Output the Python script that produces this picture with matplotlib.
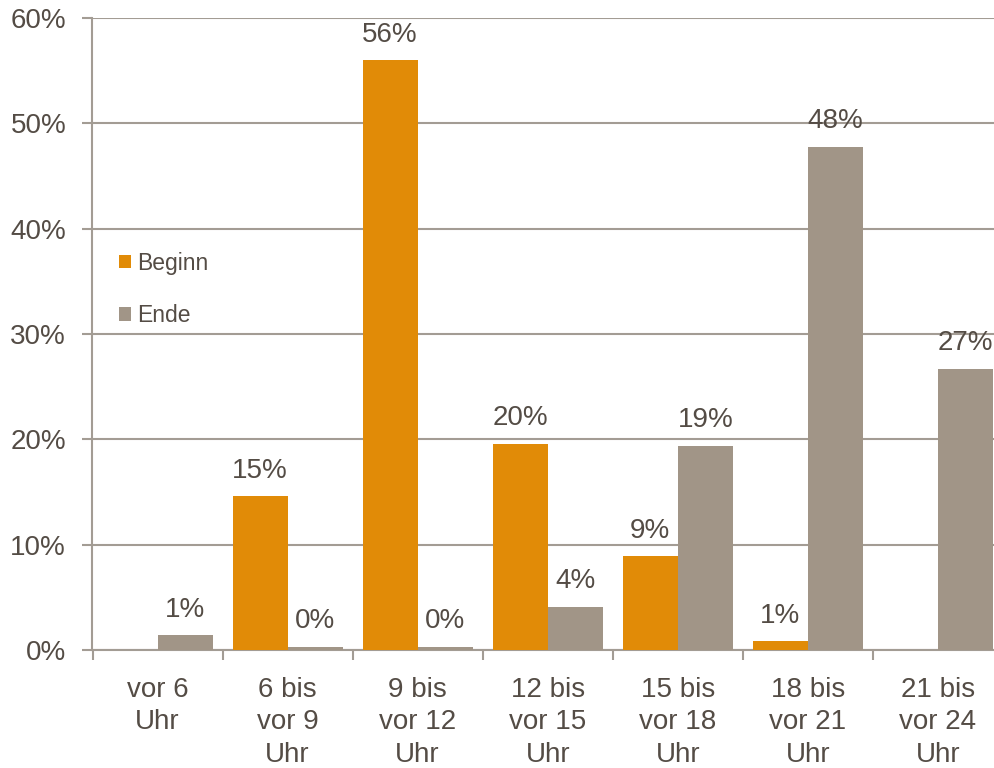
import matplotlib
matplotlib.use('Agg')
import matplotlib.pyplot as plt
import numpy as np

plt.rcParams['font.family'] = ['Liberation Sans', 'DejaVu Sans']

categories = ['vor 6\nUhr', '6 bis\nvor 9\nUhr', '9 bis\nvor 12\nUhr', '12 bis\nvor 15\nUhr',
              '15 bis\nvor 18\nUhr', '18 bis\nvor 21\nUhr', '21 bis\nvor 24\nUhr']
beginn = [np.nan, 14.6, 56.0, 19.6, 8.9, 0.85, np.nan]
ende = [1.4, 0.3, 0.3, 4.1, 19.4, 47.8, 26.7]

c_beginn = '#E18B07'
c_ende = '#A19587'
c_text = '#544C45'
c_axis = '#A39C94'

fig = plt.figure(figsize=(9.95, 7.68), dpi=100, facecolor='white')
ax = fig.add_axes([92.5/995, 1-650/768, (1003-92.5)/995, (650-18)/768])

x = np.arange(len(categories))
w = 0.423
b1 = ax.bar(x - w/2, beginn, w, color=c_beginn, label='Beginn', zorder=3)
b2 = ax.bar(x + w/2, ende, w, color=c_ende, label='Ende', zorder=3)

# value labels above each bar (no label where there is no bar)
for bars, vals in ((b1, beginn), (b2, ende)):
    for rect, v in zip(bars, vals):
        if np.isnan(v):
            continue
        ax.annotate('%d%%' % round(v), (rect.get_x() + rect.get_width()/2, v),
                    xytext=(0, 9), textcoords='offset points', ha='center', va='bottom',
                    fontsize=20, color=c_text)

ax.set_xlim(-0.5, len(categories) - 0.5)
ax.set_ylim(0, 60)
ax.set_yticks(np.arange(0, 61, 10))
ax.set_yticklabels(['%d%%' % v for v in range(0, 61, 10)])
ax.yaxis.grid(True, color=c_axis, linewidth=1.5, zorder=0)

ax.set_xticks(x)
ax.set_xticklabels(categories, linespacing=1.32)
ax.set_xticks(np.arange(-0.5, len(categories), 1), minor=True)
ax.tick_params(axis='x', which='major', length=0, pad=19.5, labelsize=20, labelcolor=c_text)
ax.tick_params(axis='x', which='minor', length=7, width=1.5, color=c_axis)
ax.tick_params(axis='y', length=7, width=1.5, color=c_axis, pad=12, labelsize=20, labelcolor=c_text)

for s in ('top', 'right'):
    ax.spines[s].set_visible(False)
for s in ('left', 'bottom'):
    ax.spines[s].set_color(c_axis)
    ax.spines[s].set_linewidth(1.5)

leg = ax.legend(loc='upper left', bbox_to_anchor=(0.006, 0.663), frameon=False, fontsize=16.5,
                handlelength=0.55, handleheight=0.55, handletextpad=0.25, labelspacing=1.28,
                labelcolor=c_text)

fig.savefig('out.png', dpi=100, facecolor='white')
